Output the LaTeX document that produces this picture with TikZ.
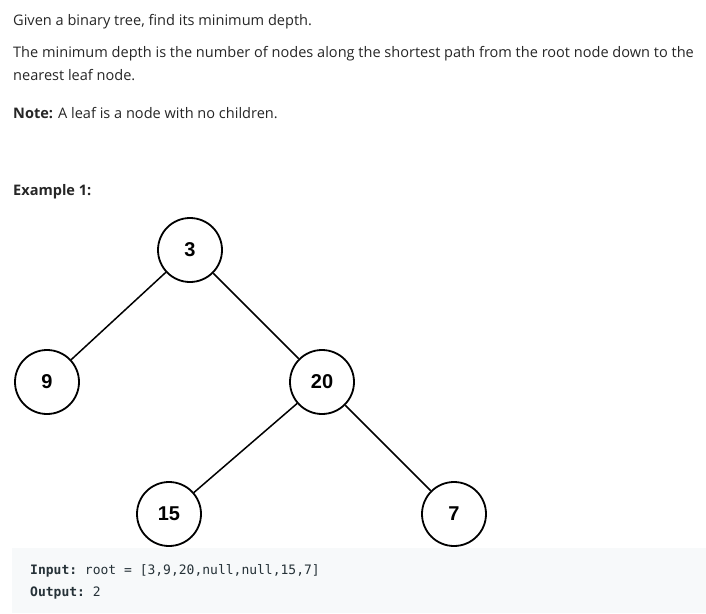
\documentclass[tikz,border=0pt]{standalone}
\usepackage{fontspec}
\setmainfont{Open Sans}
\setsansfont{Liberation Sans}
\setmonofont{DejaVu Sans Mono}
\usepackage{xcolor}
\definecolor{bodytext}{RGB}{38,38,38}
\definecolor{codebg}{RGB}{247,249,250}
\definecolor{codetext}{RGB}{38,50,56}

\tikzset{
  treenode/.style={circle,draw=black,line width=1.8pt,minimum size=64pt,inner sep=0pt,
    font=\sffamily\bfseries\fontsize{20}{20}\selectfont},
  treeedge/.style={line width=1.5pt},
  bodyline/.style={anchor=base west,inner sep=0pt,text=bodytext,font=\fontsize{14.55}{17}\selectfont},
  codeline/.style={anchor=base west,inner sep=0pt,text=codetext,font=\ttfamily\fontsize{13}{15}\selectfont}
}

\begin{document}
\begin{tikzpicture}[x=1pt,y=-1pt]
\useasboundingbox[fill=white] (0,0) rectangle (706,613);

% problem text
\node[bodyline] (l1) at (13,25) {Given a binary tree, find its minimum depth.};
\node[bodyline] (l2) at (13,57) {The minimum depth is the number of nodes along the shortest path from the root node down to the};
\node[bodyline] (l3) at (13,80) {nearest leaf node.};
\node[bodyline] (l4) at (13,118) {\textbf{Note:} A leaf is a node with no children.};
\node[bodyline] (ex) at (13,195) {\textbf{Example 1:}};

% the tree
\node[treenode] (n3)  at (190,250) {3};
\node[treenode] (n9)  at (47,382)  {9};
\node[treenode] (n20) at (322,382) {20};
\node[treenode] (n15) at (169,514) {15};
\node[treenode] (n7)  at (454,514) {7};

\draw[treeedge] (n3) -- (n9);
\draw[treeedge] (n3) -- (n20);
\draw[treeedge] (n20) -- (n15);
\draw[treeedge] (n20) -- (n7);

% code block
\fill[codebg] (12,548) rectangle (706,613);
\node[codeline] (inp) at (30,574) {\textbf{Input:} root = [3,9,20,null,null,15,7]};
\node[codeline] (out) at (30,596) {\textbf{Output:} 2};
\end{tikzpicture}
\end{document}
